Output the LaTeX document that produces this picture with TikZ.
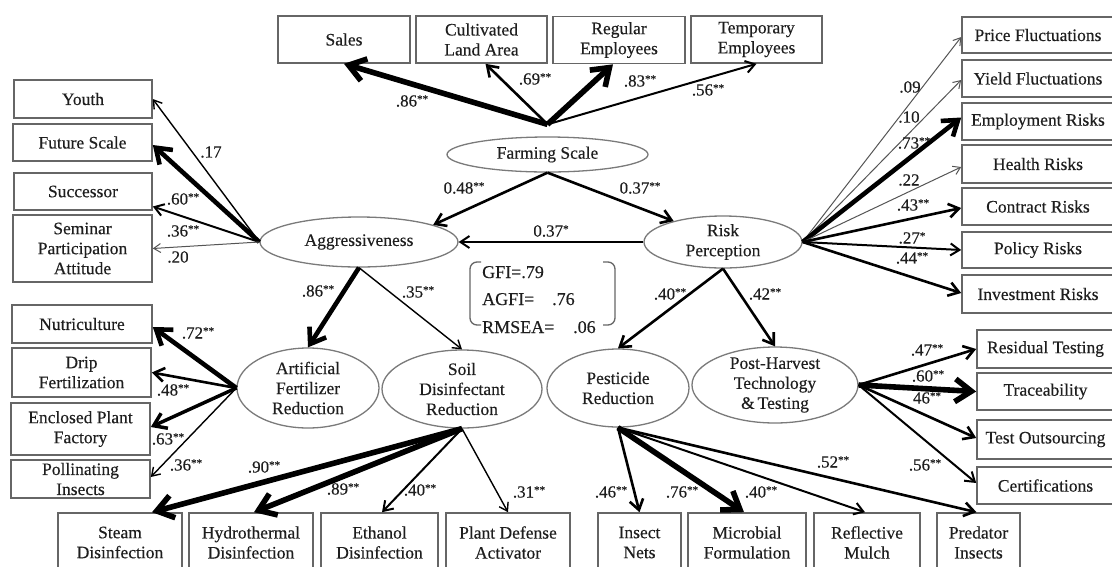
\documentclass[tikz,border=0pt]{standalone}
\usepackage{fontspec}
\setmainfont{Liberation Serif}
\newfontfamily\diagfont[FakeBold=0.3]{Liberation Serif}
\usetikzlibrary{arrows.meta,shapes.geometric,calc}
\definecolor{boxgray}{HTML}{666666}
\definecolor{ellgray}{HTML}{7A7A7A}
\definecolor{ink}{HTML}{1E1E1E}
\definecolor{faint}{HTML}{555555}
\newcommand{\mystars}[1]{\raisebox{4pt}{\fontsize{11}{11}\selectfont #1}}
\tikzset{
  box/.style={draw=boxgray, line width=1.6pt, rectangle, inner sep=0pt, align=center,
              font=\diagfont\fontsize{17.5}{20}\selectfont, text=ink},
  ell/.style={draw=ellgray, line width=1.3pt, ellipse, inner sep=-3pt, align=center,
              font=\diagfont\fontsize{17.5}{20}\selectfont, text=ink},
  lab/.style={inner sep=0pt, font=\diagfont\fontsize{17}{20}\selectfont, text=ink},
  gfitext/.style={inner sep=0pt, font=\diagfont\fontsize{18}{20}\selectfont, text=ink},
  arr/.style={-{Straight Barb[length=5pt 2, width=6pt 3]}, draw=black},
  ln1/.style={arr, line width=1pt, draw=faint},
  ln2/.style={arr, line width=1.4pt},
  ln3/.style={arr, line width=2pt},
  ln4/.style={arr, line width=2.6pt},
  ln5/.style={arr, line width=3.5pt},
  ln6/.style={arr, line width=4.6pt},
  ln7/.style={arr, line width=5.6pt},
}
\begin{document}
\begin{tikzpicture}[x=1pt,y=-1pt]
\useasboundingbox (0,0) rectangle (1112,566);
\clip (0,0) rectangle (1112,566);
\fill[white] (0,0) rectangle (1112,566);

% ---- top boxes
\node[box, minimum width=132pt, minimum height=47pt] (sales) at (344,39.5) {Sales};
\node[box, minimum width=131pt, minimum height=47pt] (land) at (481.5,39.5) {Cultivated\\Land Area};
\node[box, minimum width=132pt, minimum height=47pt] (regemp) at (619,40) {Regular\\Employees};
\node[box, minimum width=131pt, minimum height=47pt] (tempemp) at (756.5,39.5) {Temporary\\Employees};

% ---- left boxes
\node[box, minimum width=138pt, minimum height=38pt] (youth) at (83,99) {Youth};
\node[box, minimum width=139pt, minimum height=37pt] (future) at (82.5,142.5) {Future Scale};
\node[box, minimum width=138pt, minimum height=37pt] (successor) at (83,191.5) {Successor};
\node[box, minimum width=139pt, minimum height=67pt] (seminar) at (82.5,248.5) {Seminar\\Participation\\Attitude};
\node[box, minimum width=140pt, minimum height=38pt] (nutri) at (82,324) {Nutriculture};
\node[box, minimum width=139pt, minimum height=49pt] (drip) at (81.5,372.5) {Drip\\Fertilization};
\node[box, minimum width=139pt, minimum height=52pt] (enclosed) at (80.5,429) {Enclosed Plant\\Factory};
\node[box, minimum width=139pt, minimum height=38pt] (pollin) at (80.5,479) {Pollinating\\Insects};

% ---- right boxes
\node[box, minimum width=152pt, minimum height=36pt] (price) at (1038,35) {Price Fluctuations};
\node[box, minimum width=152pt, minimum height=37pt] (yield) at (1038,78.5) {Yield Fluctuations};
\node[box, minimum width=152pt, minimum height=37pt] (employ) at (1038,121.5) {Employment Risks};
\node[box, minimum width=152pt, minimum height=38pt] (health) at (1038,164) {Health Risks};
\node[box, minimum width=152pt, minimum height=37pt] (contract) at (1038,206.5) {Contract Risks};
\node[box, minimum width=152pt, minimum height=36pt] (policy) at (1038,250) {Policy Risks};
\node[box, minimum width=152pt, minimum height=38pt] (invest) at (1038,294) {Investment Risks};
\node[box, minimum width=137pt, minimum height=38pt] (residual) at (1045.5,349) {Residual Testing};
\node[box, minimum width=137pt, minimum height=37pt] (trace) at (1045.5,391.5) {Traceability};
\node[box, minimum width=137pt, minimum height=39pt] (testout) at (1045.5,439.5) {Test Outsourcing};
\node[box, minimum width=137pt, minimum height=37pt] (cert) at (1045.5,485.5) {Certifications};

% ---- bottom boxes
\node[box, minimum width=124pt, minimum height=59pt] (steam) at (120,542.5) {Steam\\Disinfection};
\node[box, minimum width=124pt, minimum height=59pt] (hydro) at (251,542.5) {Hydrothermal\\Disinfection};
\node[box, minimum width=117pt, minimum height=59pt] (ethanol) at (379.5,542.5) {Ethanol\\Disinfection};
\node[box, minimum width=124pt, minimum height=59pt] (plantdef) at (508,542.5) {Plant Defense\\Activator};
\node[box, minimum width=83pt, minimum height=59pt] (insect) at (639.5,542.5) {Insect\\Nets};
\node[box, minimum width=118pt, minimum height=59pt] (microbial) at (747,542.5) {Microbial\\Formulation};
\node[box, minimum width=106pt, minimum height=59pt] (reflective) at (867,542.5) {Reflective\\Mulch};
\node[box, minimum width=83pt, minimum height=59pt] (predator) at (978.5,542.5) {Predator\\Insects};

% ---- latent variables
\node[ell, minimum width=201pt, minimum height=35pt] (farming) at (547.5,154.5) {Farming Scale};
\node[ell, minimum width=198pt, minimum height=50pt] (aggr) at (359,242) {Aggressiveness};
\node[ell, minimum width=158pt, minimum height=52pt] (risk) at (723,242) {Risk\\Perception};
\node[ell, minimum width=142pt, minimum height=80pt] (artif) at (308,388) {Artificial\\Fertilizer\\Reduction};
\node[ell, minimum width=160pt, minimum height=78pt] (soil) at (462,389) {Soil\\Disinfectant\\Reduction};
\node[ell, minimum width=142pt, minimum height=78pt] (pest) at (618,388) {Pesticide\\Reduction};
\node[ell, minimum width=166pt, minimum height=76pt] (posth) at (775,385) {Post-Harvest\\Technology\\\&\,Testing};

\coordinate (fstop) at ([yshift=12pt]farming.north);

% ---- farming scale indicators
\draw[ln7] (fstop) -- (sales.south);
\draw[ln4] (fstop) -- ([xshift=4pt]land.south);
\draw[ln7] (fstop) -- ([xshift=-6pt]regemp.south);
\draw[ln3] (fstop) -- (tempemp.south);

% ---- structural paths
\draw[ln4] (farming.south) -- (aggr.13);
\draw[ln4] (farming.south) -- (risk.157);
\draw[ln3] (risk.west) -- (aggr.east);
\draw[ln6] (aggr.south) -- (artif.north);
\draw[ln2] (aggr.south) -- (soil.north);
\draw[ln4] (risk.south) -- (pest.north);
\draw[ln4] (risk.south) -- (posth.north);

% ---- aggressiveness indicators
\draw[ln2] (aggr.west) -- (youth.east);
\draw[ln6] (aggr.west) -- ([yshift=-2.5pt]future.east);
\draw[ln3] (aggr.west) -- ([yshift=-15pt]successor.east);
\draw[ln1] (aggr.west) -- (seminar.east);

% ---- risk perception indicators
\draw[ln1] (risk.east) -- ([yshift=-2pt]price.west);
\draw[ln1] (risk.east) -- ([yshift=-1.5pt]yield.west);
\draw[ln6] (risk.east) -- ([yshift=4pt]employ.west);
\draw[ln1] (risk.east) -- ([yshift=-3pt]health.west);
\draw[ln4] (risk.east) -- ([yshift=-1.5pt]contract.west);
\draw[ln3] (risk.east) -- (policy.west);
\draw[ln4] (risk.east) -- ([yshift=1pt]invest.west);

% ---- artificial fertilizer indicators
\draw[ln6] (artif.west) -- ([yshift=-3pt]nutri.east);
\draw[ln4] (artif.west) -- (drip.east);
\draw[ln5] (artif.west) -- ([yshift=2pt]enclosed.east);
\draw[ln2] (artif.west) -- ([yshift=2pt]pollin.east);

% ---- soil disinfectant indicators
\draw[ln7] (soil.south) -- ([xshift=32pt]steam.north);
\draw[ln7] (soil.south) -- ([xshift=3pt]hydro.north);
\draw[ln3] (soil.south) -- ([xshift=2.5pt]ethanol.north);
\draw[ln2] (soil.south) -- (plantdef.north);

% ---- pesticide indicators
\draw[ln4] (pest.south) -- (insect.north);
\draw[ln7] (pest.south) -- ([xshift=-3pt]microbial.north);
\draw[ln3] (pest.south) -- ([xshift=-2pt]reflective.north);
\draw[ln4] (pest.south) -- ([xshift=-2pt]predator.north);

% ---- post-harvest indicators
\draw[ln4] (posth.east) -- (residual.west);
\draw[ln7] (posth.east) -- (trace.west);
\draw[ln4] (posth.east) -- ([yshift=1.5pt]testout.west);
\draw[ln3] (posth.east) -- ([yshift=2.5pt]cert.west);

% ---- fit indices
\draw[draw=boxgray, line width=1.3pt, rounded corners=7pt] (481,262) -- (470,262) -- (470,325) -- (481,325);
\draw[draw=boxgray, line width=1.3pt, rounded corners=7pt] (603,262) -- (615,262) -- (615,325) -- (603,325);
\node[gfitext, anchor=base west] (gfi) at (482,278) {GFI=.79};
\node[gfitext, anchor=base west] (agfi) at (482,305) {AGFI=};
\node[gfitext, anchor=base west] (agfiv) at (552,305) {.76};
\node[gfitext, anchor=base west] (rmsea) at (482,333) {RMSEA=};
\node[gfitext, anchor=base west] (rmseav) at (573,333) {.06};

% ---- labels
\node[lab] (l1) at (412,101) {.86\mystars{**}};
\node[lab] (l2) at (535,79) {.69\mystars{**}};
\node[lab] (l3) at (640,81) {.83\mystars{**}};
\node[lab] (l4) at (708,90) {.56\mystars{**}};
\node[lab] (l5) at (464,188) {0.48\mystars{**}};
\node[lab] (l6) at (640,188) {0.37\mystars{**}};
\node[lab] (l7) at (551,231) {0.37\mystars{*}};
\node[lab] (l8) at (211,152) {.17};
\node[lab] (l9) at (183,199) {.60\mystars{**}};
\node[lab] (l10) at (183,231) {.36\mystars{**}};
\node[lab] (l11) at (178,257) {.20};
\node[lab] (l12) at (910,87) {.09};
\node[lab] (l13) at (909,117) {.10};
\node[lab] (l14) at (914,143) {.73\mystars{**}};
\node[lab] (l15) at (909,180) {.22};
\node[lab] (l16) at (913,205) {.43\mystars{**}};
\node[lab] (l17) at (912,238) {.27\mystars{*}};
\node[lab] (l18) at (912,258) {.44\mystars{**}};
\node[lab] (l19) at (318,291) {.86\mystars{**}};
\node[lab] (l20) at (418,292) {.35\mystars{**}};
\node[lab] (l21) at (670,294) {.40\mystars{**}};
\node[lab] (l22) at (765,294) {.42\mystars{**}};
\node[lab] (l23) at (198,333) {.72\mystars{**}};
\node[lab] (l24) at (173,390) {.48\mystars{**}};
\node[lab] (l25) at (168,439) {.63\mystars{**}};
\node[lab] (l26) at (186,465) {.36\mystars{**}};
\node[lab] (l27) at (264,467) {.90\mystars{**}};
\node[lab] (l28) at (343,489) {.89\mystars{**}};
\node[lab] (l29) at (420,490) {.40\mystars{**}};
\node[lab] (l30) at (529,492) {.31\mystars{**}};
\node[lab] (l31) at (611,492) {.46\mystars{**}};
\node[lab] (l32) at (682,492) {.76\mystars{**}};
\node[lab] (l33) at (761,492) {.40\mystars{**}};
\node[lab] (l34) at (833,462) {.52\mystars{**}};
\node[lab] (l35) at (927,350) {.47\mystars{**}};
\node[lab] (l36) at (928,376) {.60\mystars{**}};
\node[lab] (l37) at (927,398) {46\mystars{**}};
\node[lab] (l38) at (925,465) {.56\mystars{**}};
\end{tikzpicture}
\end{document}
